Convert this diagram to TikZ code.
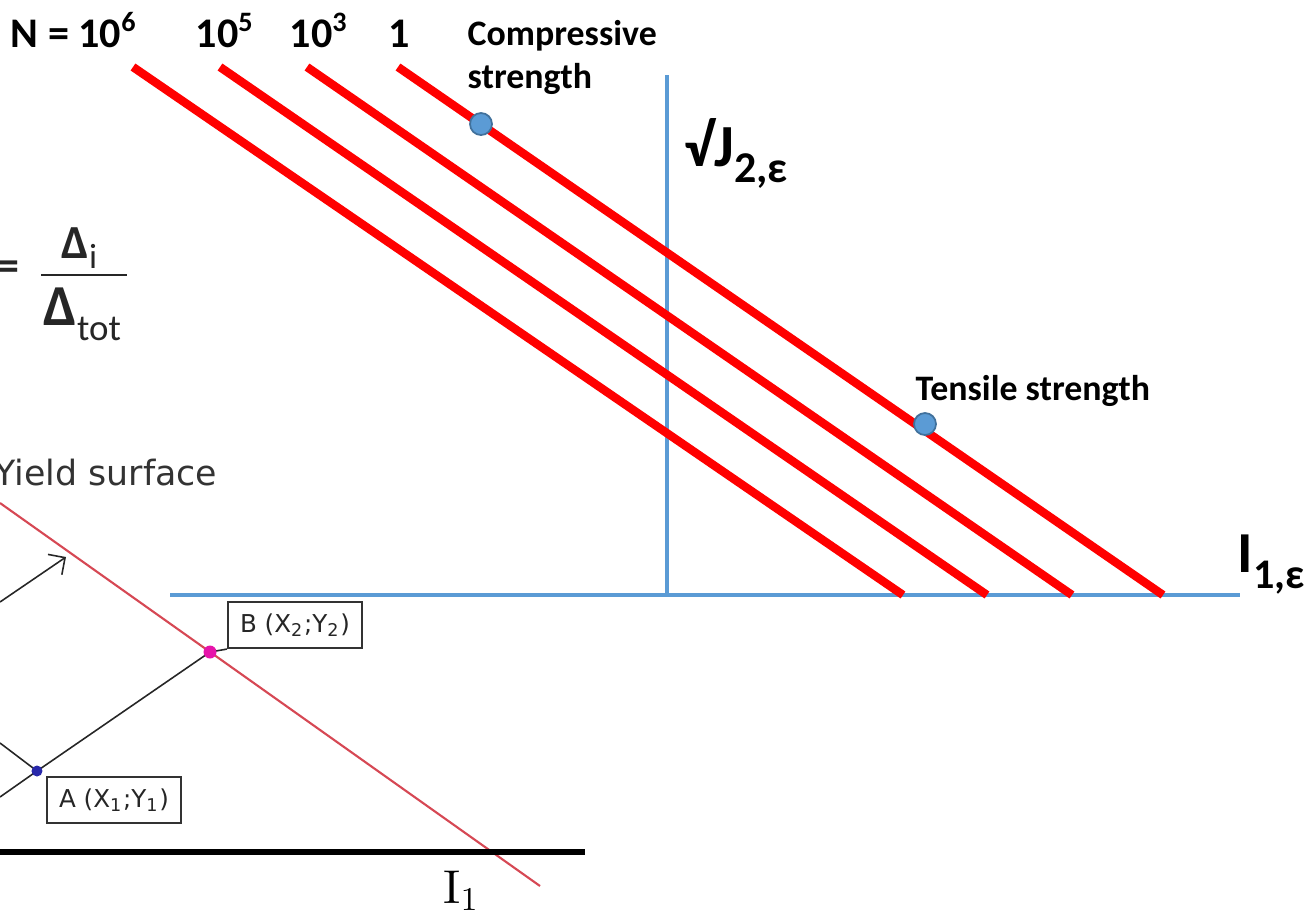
\documentclass[tikz,border=0pt]{standalone}
\usepackage{fontspec}
\setmainfont{Carlito}
\newfontfamily\insetfont{DejaVu Sans}
\newfontfamily\lmfont{lmroman10-regular.otf}
\usepackage{xcolor}
\usepackage{tikz}
\usetikzlibrary{arrows.meta,calc,positioning}
\definecolor{axisblue}{RGB}{91,155,213}
\definecolor{dotedge}{RGB}{65,113,156}
\definecolor{yieldred}{RGB}{214,72,84}
\definecolor{ptblue}{RGB}{40,40,170}
\definecolor{ptpink}{RGB}{230,20,170}

\begin{document}
\begin{tikzpicture}[x=1cm,y=-1cm,
  axis/.style={axisblue,line width=1.3pt},
  fatigue/.style={red,line width=2.4pt},
  strdot/.style={circle,fill=axisblue,draw=dotedge,line width=0.5pt,minimum size=0.22cm,inner sep=0pt},
  ptdot/.style={circle,minimum size=0.11cm,inner sep=0pt},
  ptbox/.style={draw=black!80,line width=0.6pt,minimum width=1.34cm,minimum height=0.46cm,inner sep=1pt,font=\insetfont\fontsize{7pt}{8pt}\selectfont,text=black!85},
  thinline/.style={black!85,line width=0.45pt},
  nlbl/.style={font=\bfseries\fontsize{12pt}{14pt}\selectfont,inner sep=0pt},
  boldlbl/.style={font=\bfseries\fontsize{10.2pt}{12.2pt}\selectfont,inner sep=0pt},
  eqlbl/.style={inner sep=0pt,text=black!85}]
  \clip (0,0) rectangle (13.04,9.20);

  \draw[yieldred,line width=0.6pt] (0,5.03) -- (5.40,8.86);
  \draw[black,line width=1.7pt] (0,8.52) -- (5.85,8.52);
  \coordinate (A) at (0.37,7.71);
  \coordinate (B) at (2.10,6.52);
  \node[ptbox] (boxB) at (2.95,6.25) {B (X\textsubscript{2};Y\textsubscript{2})};
  \node[ptbox] (boxA) at (1.14,8.00) {A (X\textsubscript{1};Y\textsubscript{1})};
  \coordinate (low) at (0,7.97);
  \coordinate (up) at (0,7.43);
  \coordinate (arrA) at (0,6.02);
  \coordinate (arrB) at (0.66,5.57);
  \draw[thinline] (low) -- (A) -- (B) -- (boxB.south west);
  \draw[thinline] (up) -- (A);
  \draw[thinline,-{Straight Barb[length=3.5pt,width=7pt]}] (arrA) -- (arrB);
  \node[ptdot,fill=ptblue] (ptA) at (A) {};
  \node[ptdot,fill=ptpink,minimum size=0.13cm] (ptB) at (B) {};
  \node[anchor=base west,inner sep=0pt,text=black!80,font=\insetfont\fontsize{9.9pt}{11pt}\selectfont] (yield) at (-0.06,4.85) {Yield surface};
  \node[anchor=base west,inner sep=0pt,font=\lmfont\fontsize{13.5pt}{16pt}\selectfont] (ione) at (4.43,9.03) {I\textsubscript{1}};

  \node[eqlbl,anchor=base west,font=\bfseries\fontsize{12.5pt}{15pt}\selectfont] (eqs) at (-0.03,2.80) {=};
  \draw[black!85,line width=0.8pt] (0.41,2.75) -- (1.27,2.75);
  \node[eqlbl,anchor=base west,font=\bfseries\fontsize{13.5pt}{16pt}\selectfont] (num) at (0.61,2.58) {Δ\raisebox{-0.10cm}{\mdseries\fontsize{10pt}{12pt}\selectfont i}};
  \node[eqlbl,anchor=base west,font=\bfseries\fontsize{16.5pt}{19pt}\selectfont] (den) at (0.43,3.25) {Δ\raisebox{-0.15cm}{\mdseries\fontsize{10.5pt}{12pt}\selectfont tot}};

  \draw[axis] (6.67,0.75) -- (6.67,5.95);
  \draw[axis] (1.70,5.95) -- (12.40,5.95);
  \foreach \xa/\xb in {1.33/9.03,2.20/9.87,3.07/10.72,3.98/11.63}
    \draw[fatigue] (\xa,0.67) -- (\xb,5.95);
  \node[strdot] (cs) at (4.81,1.24) {};
  \node[strdot] (ts) at (9.25,4.24) {};

  \node[nlbl,anchor=base west] (n6) at (0.10,0.47) {N = 10\textsuperscript{6}};
  \node[nlbl,anchor=base west] (n5) at (1.95,0.47) {10\textsuperscript{5}};
  \node[nlbl,anchor=base west] (n3) at (2.89,0.47) {10\textsuperscript{3}};
  \node[nlbl,anchor=base west] (n1) at (3.88,0.47) {1};
  \node[boldlbl,anchor=base west] (cmp1) at (4.67,0.45) {Compressive};
  \node[boldlbl,anchor=base west] (cmp2) at (4.67,0.88) {strength};
  \node[boldlbl,anchor=base west] (tns) at (9.15,4.00) {Tensile strength};
  \node[anchor=base west,inner sep=0pt,font=\bfseries] (jax) at (6.84,1.66) {{\fontsize{17pt}{20pt}\selectfont √J}\raisebox{-0.16cm}{\fontsize{12.5pt}{15pt}\selectfont 2,ε}};
  \node[anchor=base west,inner sep=0pt,font=\bfseries] (iax) at (12.37,5.72) {{\fontsize{16.5pt}{19pt}\selectfont I}\raisebox{-0.16cm}{\fontsize{12pt}{14pt}\selectfont 1,ε}};
\end{tikzpicture}
\end{document}
